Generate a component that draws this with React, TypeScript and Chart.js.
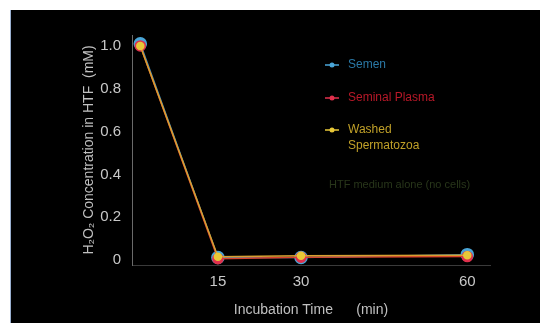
import React, { useEffect, useRef } from "react";
import { Chart, registerables } from "chart.js";

Chart.register(...registerables);

const times = [1, 15, 30, 60];
const semen = [1.01, 0.012, 0.012, 0.025];
const seminalPlasma = [1.0, 0.006, 0.013, 0.016];
const washedSperm = [1.0, 0.015, 0.02, 0.022];
const xTicks = [15, 30, 60];
const yTicks = [0, 0.2, 0.4, 0.6, 0.8, 1.0];

const seriesNames = ["Semen", "Seminal Plasma", "Washed|Spermatozoa"];
const markerColors = ["#4aa6d8", "#e0304c", "#e8c838"];
const textColors = ["#2a78a6", "#b81828", "#c0a028"];
const lineColors = ["#3a90c0", "#d8402a", "#d8a030"];
const markerSizes = [6, 5, 3.5];
const extraNote = "HTF medium alone (no cells)";

const legendPlugin = {
  id: "customLegend",
  afterDraw(chart: any) {
    const ctx = chart.ctx;
    ctx.save();
    ctx.font = "12px 'Liberation Sans', Arial, sans-serif";
    ctx.textBaseline = "middle";
    const ys = [55, 88, 120];
    seriesNames.forEach((name, i) => {
      const y = ys[i];
      ctx.strokeStyle = markerColors[i];
      ctx.lineWidth = 1.5;
      ctx.beginPath();
      ctx.moveTo(314, y);
      ctx.lineTo(328, y);
      ctx.stroke();
      ctx.fillStyle = markerColors[i];
      ctx.beginPath();
      ctx.arc(321, y, 2.5, 0, Math.PI * 2);
      ctx.fill();
      ctx.fillStyle = textColors[i];
      name.split("|").forEach((line, j) => {
        ctx.fillText(line, 337, y + j * 16);
      });
    });
    ctx.fillStyle = "#28361a";
    ctx.font = "11px 'Liberation Sans', Arial, sans-serif";
    ctx.fillText(extraNote, 318, 175);
    ctx.restore();
  },
};

export default function App() {
  const ref = useRef<HTMLCanvasElement>(null);
  useEffect(() => {
    if (!ref.current) return;
    const mk = (label: string, data: number[], i: number) => ({
      label,
      data: times.map((t, k) => ({ x: t, y: data[k] })),
      borderColor: lineColors[i],
      backgroundColor: markerColors[i],
      pointBackgroundColor: markerColors[i],
      pointBorderColor: markerColors[i],
      pointRadius: markerSizes[i],
      borderWidth: 1.5,
      tension: 0,
    });
    const chart = new Chart(ref.current, {
      type: "line",
      data: {
        datasets: [
          mk("Washed Spermatozoa", washedSperm, 2),
          mk("Seminal Plasma", seminalPlasma, 1),
          mk("Semen", semen, 0),
        ],
      },
      options: {
        animation: false,
        responsive: false,
        layout: { padding: { left: 66, right: 50, top: 25, bottom: 0 } },
        plugins: { legend: { display: false }, tooltip: { enabled: false } },
        scales: {
          x: {
            type: "linear",
            min: -0.5,
            max: 64.1,
            afterBuildTicks: (s: any) => {
              s.ticks = xTicks.map((v) => ({ value: v }));
            },
            afterFit: (s: any) => {
              s.height = 58;
            },
            grid: { display: false, drawTicks: false },
            border: { display: true, color: "#3a3a3a", width: 1 },
            ticks: {
              color: "#c8c8c8",
              padding: 8,
              font: { size: 15, family: "'Liberation Sans', Arial, sans-serif" },
              maxRotation: 0,
            },
            title: {
              display: true,
              text: "Incubation Time      (min)",
              color: "#c0c0c0",
              padding: { top: 4 },
              font: { size: 14, family: "'Liberation Sans', Arial, sans-serif" },
            },
          },
          y: {
            min: -0.0234,
            max: 1.051,
            afterBuildTicks: (s: any) => {
              s.ticks = yTicks.map((v) => ({ value: v }));
            },
            afterFit: (s: any) => {
              s.width = 55;
            },
            grid: { display: false, drawTicks: true, tickLength: 3, color: "#505050" },
            border: { display: true, color: "#6a6a6a", width: 1 },
            ticks: {
              color: "#c8c8c8",
              padding: 8,
              font: { size: 15, family: "'Liberation Sans', Arial, sans-serif" },
              callback: (v: any) => (v === 0 ? "0" : Number(v).toFixed(1)),
            },
            title: {
              display: true,
              text: "H\u2082O\u2082 Concentration in HTF  (mM)",
              color: "#c0c0c0",
              padding: { bottom: 2 },
              font: { size: 14, family: "'Liberation Sans', Arial, sans-serif" },
            },
          },
        },
      },
      plugins: [legendPlugin],
    });
    return () => chart.destroy();
  }, []);
  return (
    <div
      style={{
        position: "fixed",
        left: 10,
        top: 10,
        width: 530,
        height: 313,
        background: "#000",
        borderLeft: "1px solid #9ab0d0",
        boxSizing: "border-box",
      }}
    >
      <canvas ref={ref} width={529} height={313} style={{ display: "block" }} />
    </div>
  );
}
